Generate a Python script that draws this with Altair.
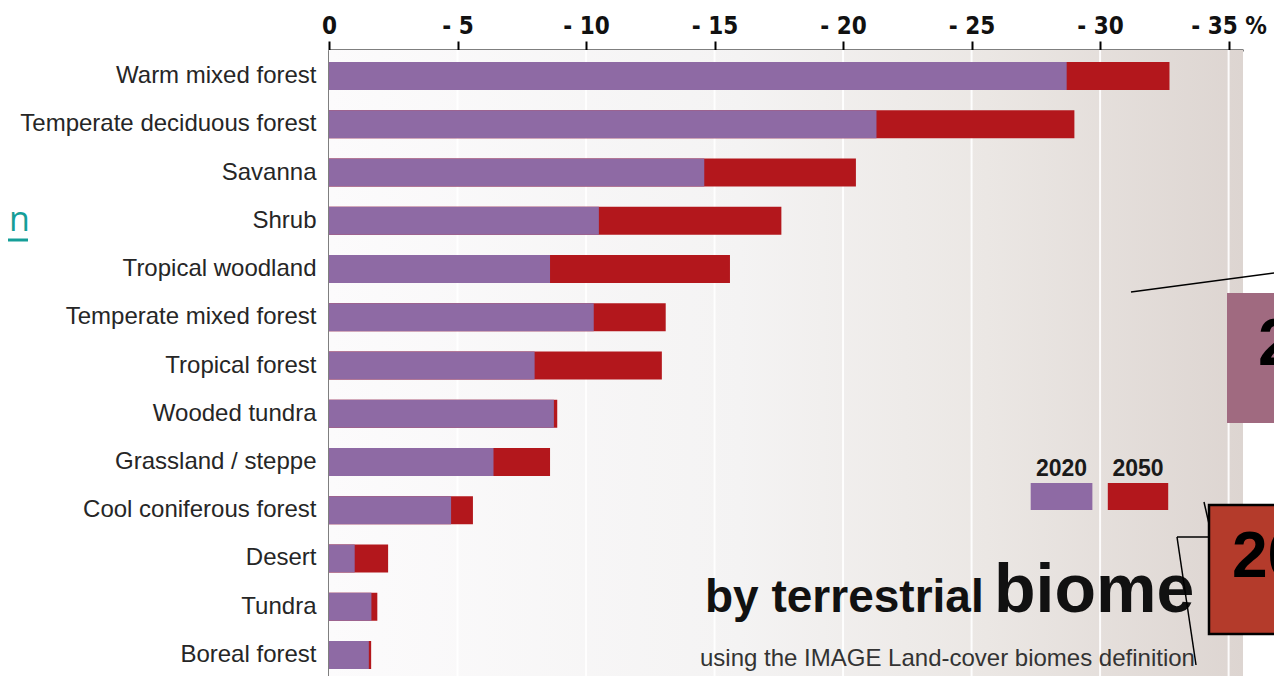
import altair as alt
import pandas as pd

# ---------------- data ----------------
biomes = [
    "Warm mixed forest", "Temperate deciduous forest", "Savanna", "Shrub",
    "Tropical woodland", "Temperate mixed forest", "Tropical forest",
    "Wooded tundra", "Grassland / steppe", "Cool coniferous forest",
    "Desert", "Tundra", "Boreal forest",
]
change_2020 = [-28.7, -21.3, -14.6, -10.5, -8.6, -10.3, -8.0, -8.75, -6.4, -4.75, -1.0, -1.65, -1.55]
change_2050 = [-32.7, -29.0, -20.5, -17.6, -15.6, -13.1, -12.95, -8.88, -8.6, -5.6, -2.3, -1.88, -1.64]
x_ticks = [0, -5, -10, -15, -20, -25, -30, -35]
legend_years = ["2020", "2050"]
title_main = "by terrestrial"
title_big = "biome"
subtitle = "using the IMAGE Land-cover biomes definition"

# ---------------- style ----------------
PURPLE = "#8e6aa4"
RED = "#b3171c"
W, H = 914, 626
FONT = "Liberation Sans, Arial, sans-serif"
NARROW = "Liberation Sans Narrow, Arial Narrow, DejaVu Sans Condensed, sans-serif"

bars = pd.DataFrame({"biome": biomes, "y2020": change_2020, "y2050": change_2050})

xscale = alt.Scale(domain=[0, -35.56], nice=False, zero=False)
yscale = alt.Scale(domain=biomes, range=[0, 631], paddingInner=0.42, paddingOuter=0.25)

one = pd.DataFrame({"k": [0]})

gradient = alt.LinearGradient(
    gradient="linear", x1=0, x2=1, y1=0, y2=0,
    stops=[
        alt.GradientStop(color="#fcfbfc", offset=0),
        alt.GradientStop(color="#f4f3f3", offset=0.45),
        alt.GradientStop(color="#ebe7e4", offset=0.72),
        alt.GradientStop(color="#ddd5d1", offset=1),
    ],
)
bg = alt.Chart(one).mark_rect(fill=gradient).encode(
    x=alt.value(0), x2=alt.value(W), y=alt.value(0), y2=alt.value(H)
)

grid = alt.Chart(pd.DataFrame({"t": x_ticks[1:]})).mark_rule(
    color="white", strokeWidth=2, opacity=0.9
).encode(x=alt.X("t:Q", scale=xscale, axis=None))

x_axis = alt.Axis(
    orient="top", values=x_ticks, grid=False, title=None,
    labelExpr="datum.value == 0 ? '0' : '- ' + abs(datum.value) + (datum.value == -35 ? ' %' : '')",
    domainColor="black", domainWidth=2, tickColor="black", tickWidth=2, tickSize=9,
    labelFont=NARROW, labelFontSize=24, labelFontWeight="bold", labelColor="#111",
    labelPadding=3, labelFlush=False, labelOverlap=False,
)
y_axis = alt.Axis(
    title=None, ticks=False, domainColor="black", domainWidth=2,
    labelFont=FONT, labelFontSize=24, labelColor="#262626", labelPadding=13, labelLimit=400,
)

red = alt.Chart(bars).mark_bar(color=RED).encode(
    x=alt.X("y2050:Q", scale=xscale, axis=x_axis),
    y=alt.Y("biome:N", scale=yscale, sort=biomes, axis=y_axis),
)
purple = alt.Chart(bars).mark_bar(color=PURPLE).encode(
    x=alt.X("y2020:Q", scale=xscale, axis=None),
    y=alt.Y("biome:N", scale=yscale, sort=biomes, axis=None),
)

# manual legend (positions in data units of the x axis)
legend_df = pd.DataFrame({"year": legend_years, "x0": [-27.3, -30.3], "x1": [-29.7, -32.65]})
legend_df["xm"] = (legend_df["x0"] + legend_df["x1"]) / 2
leg_color = alt.Color("year:N", scale=alt.Scale(domain=legend_years, range=[PURPLE, RED]), legend=None)
leg_rect = alt.Chart(legend_df).mark_rect().encode(
    x=alt.X("x0:Q", scale=xscale, axis=None), x2="x1:Q",
    y=alt.value(433), y2=alt.value(460), color=leg_color,
)
leg_text = alt.Chart(legend_df).mark_text(
    font=FONT, fontSize=23, fontWeight="bold", color="#1a1a1a", baseline="alphabetic"
).encode(x=alt.X("xm:Q", scale=xscale, axis=None), y=alt.value(426), text="year:N")

# title block
t1 = alt.Chart(one).mark_text(
    text=title_main, font=FONT, fontSize=46, fontWeight="bold", color="#111",
    align="left", baseline="alphabetic",
).encode(x=alt.value(376), y=alt.value(562))
t2 = alt.Chart(one).mark_text(
    text=title_big, font=FONT, fontSize=68, fontWeight="bold", color="#111",
    align="left", baseline="alphabetic",
).encode(x=alt.value(665), y=alt.value(562))
t3 = alt.Chart(one).mark_text(
    text=subtitle, font=FONT, fontSize=24, color="#333",
    align="left", baseline="alphabetic",
).encode(x=alt.value(371), y=alt.value(616))

# slide overlays visible in the screenshot
box1 = alt.Chart(one).mark_rect(fill="#a06a80").encode(
    x=alt.value(898), x2=alt.value(970), y=alt.value(243), y2=alt.value(373)
)
box1_t = alt.Chart(one).mark_text(
    text="2", font=FONT, fontSize=66, fontWeight="bold", color="black",
    align="left", baseline="alphabetic",
).encode(x=alt.value(929), y=alt.value(315))
box2 = alt.Chart(one).mark_rect(fill="#b43b2b", stroke="black", strokeWidth=2.5).encode(
    x=alt.value(880), x2=alt.value(975), y=alt.value(455), y2=alt.value(584)
)
box2_t = alt.Chart(one).mark_text(
    text="20", font=FONT, fontSize=64, fontWeight="bold", color="black",
    align="left", baseline="alphabetic",
).encode(x=alt.value(903), y=alt.value(527))

callouts = pd.DataFrame({
    "x": [802, 875, 848, 848],
    "y": [242, 452, 487, 487],
    "x2": [960, 883, 883, 867],
    "y2": [221, 487, 487, 615],
})
lines = alt.Chart(callouts).mark_rule(color="black", strokeWidth=1.5).encode(
    x=alt.X("x:Q", scale=alt.Scale(domain=[0, W], range=[0, W]), axis=None),
    x2="x2:Q",
    y=alt.Y("y:Q", scale=alt.Scale(domain=[0, H], range=[0, H]), axis=None),
    y2="y2:Q",
)

link_n = alt.Chart(one).mark_text(
    text="n", font="Open Sans, sans-serif", fontSize=34, color="#159e98",
    align="left", baseline="alphabetic",
).encode(x=alt.value(-320), y=alt.value(181))
link_u = alt.Chart(one).mark_rule(color="#159e98", strokeWidth=3).encode(
    x=alt.value(-321), x2=alt.value(-301), y=alt.value(190)
)

chart = alt.layer(
    bg, grid, red, purple, leg_rect, leg_text, t1, t2, t3,
    lines, box1, box1_t, box2, box2_t, link_n, link_u,
).resolve_scale(x="independent", y="independent").properties(
    width=W, height=H,
    padding={"left": 321, "top": 42, "right": 31, "bottom": 0},
    autosize=alt.AutoSizeParams(type="none"),
    background="white",
).configure_view(stroke=None)

chart.save("out.html", embed_options={"renderer": "svg", "actions": False})
